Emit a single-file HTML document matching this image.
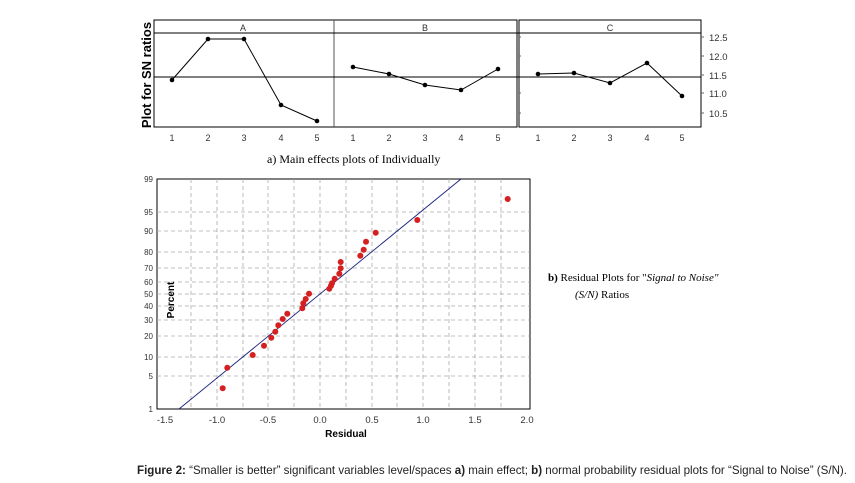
<!DOCTYPE html>
<html><head><meta charset="utf-8"><style>
body{margin:0;background:#fff;}
svg{display:block;}
</style></head><body>
<svg width="855" height="483" viewBox="0 0 855 483" xmlns="http://www.w3.org/2000/svg" font-family="Liberation Sans, sans-serif">
<g stroke="#000" fill="none" stroke-width="1">
<rect x="154" y="20" width="363" height="107"/>
<rect x="519" y="20" width="182" height="107"/>
<line x1="334" y1="20" x2="334" y2="127" stroke="#555"/>
<line x1="154" y1="33" x2="701" y2="33"/>
<line x1="154" y1="77" x2="701" y2="77"/>
<polyline points="172,80 208,39 244,39 281,105 317,121"/>
<polyline points="353,67 389,74 425,85 461,90 498,69"/>
<polyline points="538,74 574,73 610,83 647,63 682,96"/>
<g stroke="#666"><line x1="701" y1="37" x2="704" y2="37"/><line x1="701" y1="56" x2="704" y2="56"/><line x1="701" y1="75" x2="704" y2="75"/><line x1="701" y1="93" x2="704" y2="93"/><line x1="701" y1="113" x2="704" y2="113"/>
<line x1="519" y1="37" x2="521" y2="37"/><line x1="519" y1="56" x2="521" y2="56"/><line x1="519" y1="93" x2="521" y2="93"/><line x1="519" y1="113" x2="521" y2="113"/></g>
</g>
<g fill="#000">
<circle cx="172" cy="80" r="2.3"/><circle cx="208" cy="39" r="2.3"/><circle cx="244" cy="39" r="2.3"/><circle cx="281" cy="105" r="2.3"/><circle cx="317" cy="121" r="2.3"/>
<circle cx="353" cy="67" r="2.3"/><circle cx="389" cy="74" r="2.3"/><circle cx="425" cy="85" r="2.3"/><circle cx="461" cy="90" r="2.3"/><circle cx="498" cy="69" r="2.3"/>
<circle cx="538" cy="74" r="2.3"/><circle cx="574" cy="73" r="2.3"/><circle cx="610" cy="83" r="2.3"/><circle cx="647" cy="63" r="2.3"/><circle cx="682" cy="96" r="2.3"/>
</g>
<g font-size="9" fill="#333" text-anchor="middle">
<text x="243" y="31">A</text><text x="425" y="31">B</text><text x="610" y="31">C</text>
<text x="172" y="141">1</text><text x="208" y="141">2</text><text x="244" y="141">3</text><text x="281" y="141">4</text><text x="317" y="141">5</text>
<text x="353" y="141">1</text><text x="389" y="141">2</text><text x="425" y="141">3</text><text x="461" y="141">4</text><text x="498" y="141">5</text>
<text x="538" y="141">1</text><text x="574" y="141">2</text><text x="610" y="141">3</text><text x="647" y="141">4</text><text x="682" y="141">5</text>
</g>
<g font-size="9.5" fill="#333">
<text x="709" y="41">12.5</text><text x="709" y="60">12.0</text><text x="709" y="79">11.5</text><text x="709" y="97">11.0</text><text x="709" y="117">10.5</text>
</g>
<text transform="translate(151,75) rotate(-90)" text-anchor="middle" font-size="13" font-weight="bold">Plot for SN ratios</text>
<text x="267" y="163" font-family="Liberation Serif, serif" font-size="12">a) Main effects plots of Individually</text>

<rect x="157" y="179" width="373" height="230" fill="none" stroke="#000"/>
<g stroke="#aaa" stroke-dasharray="4,3" stroke-width="0.8">
<line x1="191" y1="179" x2="191" y2="409"/><line x1="217" y1="179" x2="217" y2="409"/><line x1="243" y1="179" x2="243" y2="409"/><line x1="268" y1="179" x2="268" y2="409"/><line x1="294" y1="179" x2="294" y2="409"/><line x1="320" y1="179" x2="320" y2="409"/><line x1="346" y1="179" x2="346" y2="409"/><line x1="372" y1="179" x2="372" y2="409"/><line x1="397" y1="179" x2="397" y2="409"/><line x1="423" y1="179" x2="423" y2="409"/><line x1="449" y1="179" x2="449" y2="409"/><line x1="475" y1="179" x2="475" y2="409"/><line x1="501" y1="179" x2="501" y2="409"/>
<line x1="157" y1="376" x2="530" y2="376"/><line x1="157" y1="357" x2="530" y2="357"/><line x1="157" y1="336" x2="530" y2="336"/><line x1="157" y1="320" x2="530" y2="320"/><line x1="157" y1="306" x2="530" y2="306"/><line x1="157" y1="294" x2="530" y2="294"/><line x1="157" y1="282" x2="530" y2="282"/><line x1="157" y1="268" x2="530" y2="268"/><line x1="157" y1="252" x2="530" y2="252"/><line x1="157" y1="231" x2="530" y2="231"/><line x1="157" y1="212" x2="530" y2="212"/>
</g>
<line x1="179" y1="409" x2="461" y2="179" stroke="#1a237e" stroke-width="0.9"/>
<g fill="#d42020">
<circle cx="222.7" cy="388.3" r="3"/><circle cx="227.3" cy="367.7" r="3"/><circle cx="252.7" cy="355" r="3"/><circle cx="264" cy="345.7" r="3"/><circle cx="271.3" cy="337.7" r="3"/><circle cx="275.3" cy="331.7" r="3"/><circle cx="278.3" cy="325.3" r="3"/><circle cx="282.7" cy="319" r="3"/><circle cx="287.3" cy="313.7" r="3"/><circle cx="302.3" cy="308.3" r="3"/><circle cx="303.3" cy="303.3" r="3"/><circle cx="305.7" cy="299" r="3"/><circle cx="309" cy="293.7" r="3"/><circle cx="329.3" cy="288.7" r="3"/><circle cx="331" cy="285.7" r="3"/><circle cx="332" cy="283.3" r="3"/><circle cx="334.7" cy="278.7" r="3"/><circle cx="339.3" cy="273.7" r="3"/><circle cx="340.7" cy="268.3" r="3"/><circle cx="340.7" cy="262" r="3"/><circle cx="360.3" cy="255.7" r="3"/><circle cx="363.7" cy="249.7" r="3"/><circle cx="366" cy="241.7" r="3"/><circle cx="375.7" cy="232.7" r="3"/><circle cx="417.3" cy="220" r="3"/><circle cx="507.7" cy="199" r="3"/>
</g>
<g font-size="8" fill="#333" text-anchor="end">
<text x="153" y="182">99</text><text x="153" y="215">95</text><text x="153" y="234">90</text><text x="153" y="255">80</text><text x="153" y="271">70</text><text x="153" y="285">60</text><text x="153" y="297">50</text><text x="153" y="309">40</text><text x="153" y="323">30</text><text x="153" y="339">20</text><text x="153" y="360">10</text><text x="153" y="379">5</text><text x="153" y="412">1</text>
</g>
<g font-size="9.5" fill="#333" text-anchor="middle">
<text x="165" y="423">-1.5</text><text x="217" y="423">-1.0</text><text x="268" y="423">-0.5</text><text x="320" y="423">0.0</text><text x="372" y="423">0.5</text><text x="423" y="423">1.0</text><text x="475" y="423">1.5</text><text x="527" y="423">2.0</text>
</g>
<text x="346" y="437" text-anchor="middle" font-size="10" font-weight="bold">Residual</text>
<text transform="translate(174,300) rotate(-90)" text-anchor="middle" font-size="10" font-weight="bold">Percent</text>
<text x="548" y="281" font-family="Liberation Serif, serif" font-size="11"><tspan font-weight="bold">b)</tspan> Residual Plots for "<tspan font-style="italic">Signal to Noise"</tspan></text>
<text x="575" y="298" font-family="Liberation Serif, serif" font-size="11"><tspan font-style="italic">(S/N)</tspan> Ratios</text>
<text x="137" y="474" font-size="12" fill="#222" textLength="710" lengthAdjust="spacingAndGlyphs"><tspan font-weight="bold">Figure 2:</tspan> “Smaller is better” significant variables level/spaces <tspan font-weight="bold">a)</tspan> main effect; <tspan font-weight="bold">b)</tspan> normal probability residual plots for “Signal to Noise” (S/N).</text>
</svg>
</body></html>
